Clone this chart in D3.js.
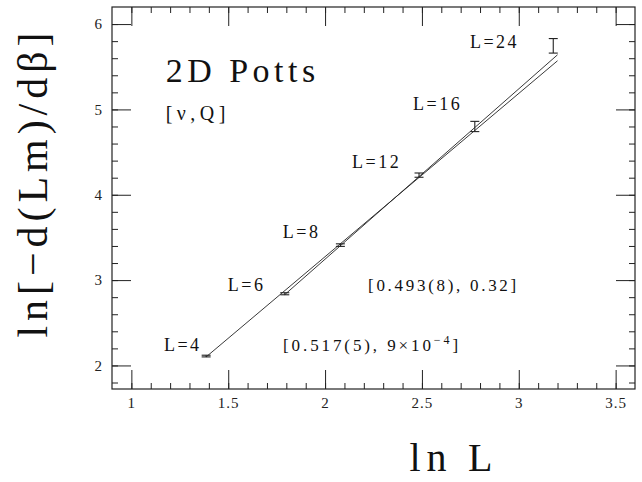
<!DOCTYPE html>
<html>
<head>
<meta charset="utf-8">
<script src="https://cdn.jsdelivr.net/npm/d3@7"></script>
<style>
  body { margin: 0; background: #fff; }
  svg { display: block; }
  .axis text { font-family: "Liberation Serif", "DejaVu Serif", serif; font-size: 15px; fill: #222; letter-spacing: 1px; }
  .axis line { stroke: #222; stroke-width: 1; }
  .lbl { font-family: "Liberation Serif", "DejaVu Serif", serif; fill: #111; }
</style>
</head>
<body>
<svg class="chart" width="642" height="482"></svg>
<script>
// sizes L and measured ln[-d(Lm)/dbeta] with error bars
var sizes = [4, 6, 8, 12, 16, 24];
var lnL = [1.386, 1.792, 2.079, 2.485, 2.773, 3.178];
var values = [2.11, 2.84, 3.41, 4.23, 4.80, 5.745];
var errors = [0.01, 0.012, 0.015, 0.025, 0.06, 0.085];

// two fitted lines [nu, Q], endpoints in data units
var fitA = [[1.386, 2.10], [3.2, 5.57]];
var fitB = [[1.792, 2.83], [3.2, 5.64]];

var xMajor = [1, 1.5, 2, 2.5, 3, 3.5];
var yMajor = [2, 3, 4, 5, 6];
var xMinor = d3.range(10, 36).map(function (d) { return d / 10; });
var yMinor = d3.range(9, 31).map(function (d) { return d / 5; });

// label anchors (data units) for the L=... labels
var labelPos = [[1.168, 2.169], [1.498, 2.872], [1.782, 3.493], [2.139, 4.313], [2.454, 4.993], [2.748, 5.72]];

var svg = d3.select(".chart"),
  margin = { top: 7, right: 7, bottom: 93, left: 112 },
  width = +svg.attr("width") - margin.left - margin.right,
  height = +svg.attr("height") - margin.top - margin.bottom,
  g = svg.append("g").attr("transform", "translate(" + margin.left + "," + margin.top + ")");

var x = d3.scaleLinear().domain([0.9, 3.6]).range([0, width]);
var y = d3.scaleLinear().domain([1.724, 6.2]).range([height, 0]);

function addAxis(axis, tr, major) {
  var a = g.append("g").attr("class", "axis").attr("transform", tr).call(axis);
  a.select(".domain").remove();
  if (!major) a.selectAll("text").remove();
}

// bottom and top
addAxis(d3.axisBottom(x).tickValues(xMinor).tickSize(-6).tickSizeOuter(0), "translate(0," + height + ")", false);
addAxis(d3.axisBottom(x).tickValues(xMajor).tickSize(-19).tickSizeOuter(0).tickPadding(8).tickFormat(d3.format("")), "translate(0," + height + ")", true);
addAxis(d3.axisTop(x).tickValues(xMinor).tickSize(-6).tickSizeOuter(0), "translate(0,0)", false);
addAxis(d3.axisTop(x).tickValues(xMajor).tickSize(-19).tickSizeOuter(0), "translate(0,0)", false);
// left and right
addAxis(d3.axisLeft(y).tickValues(yMinor).tickSize(-6).tickSizeOuter(0), "translate(0,0)", false);
addAxis(d3.axisLeft(y).tickValues(yMajor).tickSize(-19).tickSizeOuter(0).tickPadding(9).tickFormat(d3.format("d")), "translate(0,0)", true);
addAxis(d3.axisRight(y).tickValues(yMinor).tickSize(-6).tickSizeOuter(0), "translate(" + width + ",0)", false);
addAxis(d3.axisRight(y).tickValues(yMajor).tickSize(-19).tickSizeOuter(0), "translate(" + width + ",0)", false);

g.append("rect")
  .attr("width", width)
  .attr("height", height)
  .attr("fill", "none")
  .attr("stroke", "#222")
  .attr("stroke-width", 1.2);

// fit lines
var line = d3.line()
  .x(function (d) { return x(d[0]); })
  .y(function (d) { return y(d[1]); });
[fitA, fitB].forEach(function (f) {
  g.append("path").attr("d", line(f)).attr("fill", "none").attr("stroke", "#222").attr("stroke-width", 0.9);
});

// error bars
var pts = sizes.map(function (L, i) { return { L: L, x: lnL[i], y: values[i], e: errors[i] }; });
var eb = g.append("g").attr("stroke", "#222").attr("stroke-width", 1.1)
  .selectAll("g").data(pts).enter().append("g");
eb.append("line")
  .attr("x1", function (d) { return x(d.x); })
  .attr("x2", function (d) { return x(d.x); })
  .attr("y1", function (d) { return y(d.y - d.e); })
  .attr("y2", function (d) { return y(d.y + d.e); });
eb.selectAll(".cap").data(function (d) { return [[d, -1], [d, 1]]; }).enter().append("line")
  .attr("x1", function (c) { return x(c[0].x) - 4.5; })
  .attr("x2", function (c) { return x(c[0].x) + 4.5; })
  .attr("y1", function (c) { return y(c[0].y + c[1] * c[0].e); })
  .attr("y2", function (c) { return y(c[0].y + c[1] * c[0].e); });

// point labels
g.selectAll(".pl").data(pts).enter().append("text")
  .attr("class", "lbl")
  .attr("font-size", 18)
  .attr("letter-spacing", 2.5)
  .attr("x", function (d, i) { return x(labelPos[i][0]); })
  .attr("y", function (d, i) { return y(labelPos[i][1]); })
  .text(function (d) { return "L=" + d.L; });

// annotations
g.append("text").attr("class", "lbl").attr("font-size", 34).attr("letter-spacing", 4.5)
  .attr("x", x(1.177)).attr("y", y(5.321)).text("2D Potts");
g.append("text").attr("class", "lbl").attr("font-size", 20).attr("letter-spacing", 4.5)
  .attr("x", x(1.177)).attr("y", y(4.876)).text("[\u03bd,Q]");
g.append("text").attr("class", "lbl").attr("font-size", 17).attr("letter-spacing", 2.7)
  .attr("x", x(2.222)).attr("y", y(2.872)).text("[0.493(8), 0.32]");
var t = g.append("text").attr("class", "lbl").attr("font-size", 17).attr("letter-spacing", 2.9)
  .attr("x", x(1.783)).attr("y", y(2.169));
t.append("tspan").text("[0.517(5), 9\u00d710");
t.append("tspan").attr("dy", -7).attr("font-size", 12).text("\u22124");
t.append("tspan").attr("dy", 7).text("]");

// axis titles
svg.append("text").attr("class", "lbl").attr("font-size", 42)
  .attr("text-anchor", "middle")
  .attr("textLength", 305)
  .attr("lengthAdjust", "spacing")
  .attr("transform", "translate(47,185) rotate(-90)")
  .text("ln[\u2212d(Lm)/d\u03b2]");
svg.append("text").attr("class", "lbl").attr("font-size", 40)
  .attr("text-anchor", "middle")
  .attr("textLength", 83)
  .attr("lengthAdjust", "spacing")
  .attr("x", 451).attr("y", 471)
  .text("ln L");
</script>
</body>
</html>
